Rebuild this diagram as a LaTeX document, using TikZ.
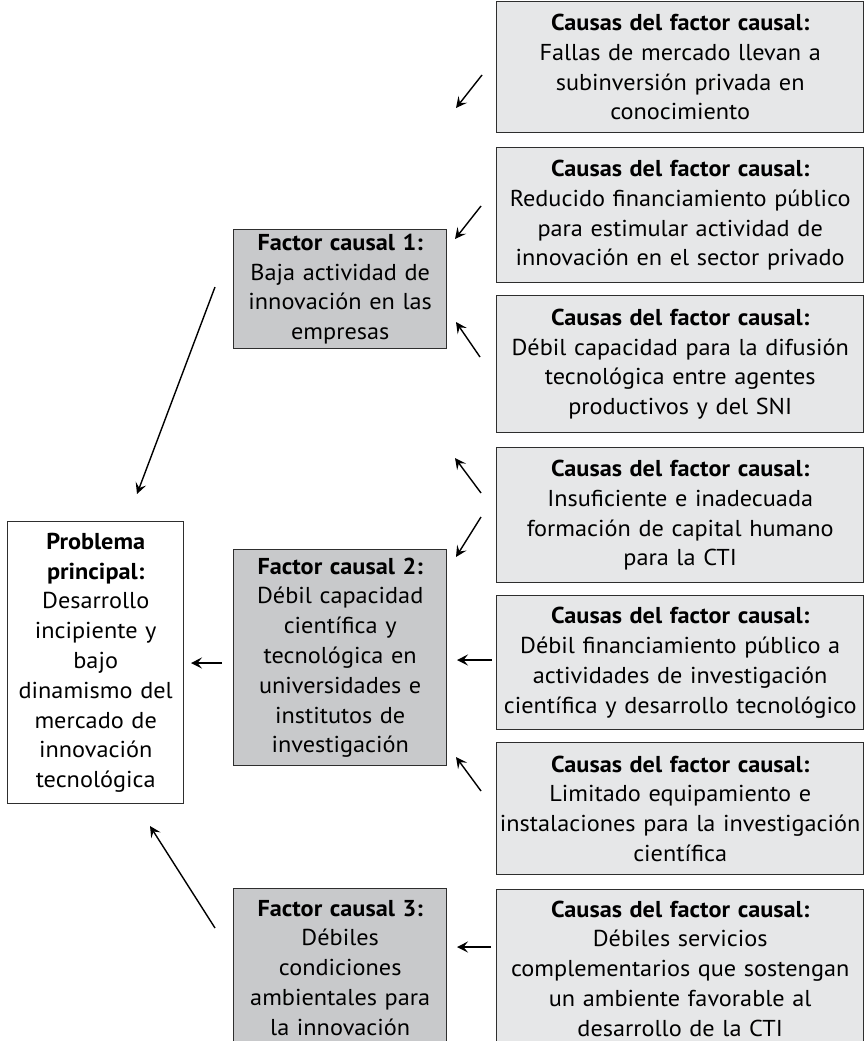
\documentclass[tikz,border=0pt]{standalone}
\usepackage{fontspec}
\setmainfont{PT Sans}[FakeStretch=1.055]
\usetikzlibrary{arrows.meta}
\definecolor{causefill}{HTML}{E6E7E8}
\definecolor{factfill}{HTML}{C8C9CB}
\definecolor{edgecol}{HTML}{2E2E2E}
\begin{document}
\begin{tikzpicture}[x=1pt,y=-1pt,
  box/.style={draw=edgecol, line width=1.4pt, inner ysep=0pt, align=center, anchor=north west,
    font=\fontsize{23}{29.8}\selectfont},
  causebox/.style={box, fill=causefill, minimum width=367pt, text width=380pt, inner xsep=-6.5pt},
  factbox/.style={box, fill=factfill, minimum width=213pt, text width=209pt, inner xsep=0pt},
  probbox/.style={box, fill=white, minimum width=176pt, text width=174pt, inner xsep=0pt},
  arr/.style={line width=1.4pt, -{Stealth[length=11pt,width=11pt,inset=4.5pt]}}
]
\useasboundingbox (0,0) rectangle (864,1041);
\clip (0,0) rectangle (864,1041);

% cause boxes
\node[causebox, minimum height=131pt] (c1) at (496,1)
  {\textbf{Causas del factor causal:}\\Fallas de mercado llevan a\\subinversión privada en\\conocimiento};
\node[causebox, minimum height=135pt] (c2) at (496,147)
  {\textbf{Causas del factor causal:}\\Reducido financiamiento público\\para estimular actividad de\\innovación en el sector privado};
\node[causebox, minimum height=137pt] (c3) at (496,295)
  {\textbf{Causas del factor causal:}\\Débil capacidad para la difusión\\tecnológica entre agentes\\productivos y del SNI};
\node[causebox, minimum height=135pt] (c4) at (496,447)
  {\textbf{Causas del factor causal:}\\Insuficiente e inadecuada\\formación de capital humano\\para la CTI};
\node[causebox, minimum height=134pt] (c5) at (496,595)
  {\textbf{Causas del factor causal:}\\Débil financiamiento público a\\actividades de investigación\\científica y desarrollo tecnológico};
\node[causebox, minimum height=132pt] (c6) at (496,742)
  {\textbf{Causas del factor causal:}\\Limitado equipamiento e\\instalaciones para la investigación\\científica};
\node[causebox, minimum height=158pt] (c7) at (496,889)
  {\textbf{Causas del factor causal:}\\Débiles servicios\\complementarios que sostengan\\un ambiente favorable al\\desarrollo de la CTI};

% factor boxes
\node[factbox, minimum height=119pt] (f1) at (233,229)
  {\textbf{Factor causal 1:}\\Baja actividad de\\innovación en las\\empresas};
\node[factbox, minimum height=216pt] (f2) at (233,549)
  {\textbf{Factor causal 2:}\\Débil capacidad\\científica y\\tecnológica en\\universidades e\\institutos de\\investigación};
\node[factbox, minimum height=158pt] (f3) at (233,888)
  {\textbf{Factor causal 3:}\\Débiles\\condiciones\\ambientales para\\la innovación};

% problem box
\node[probbox, minimum height=282pt] (p) at (7,521)
  {\textbf{Problema}\\\textbf{principal:}\\Desarrollo\\incipiente y\\bajo\\dinamismo del\\mercado de\\innovación\\tecnológica};

% arrow end points
\coordinate (a1s) at (482,75);  \coordinate (a1e) at (456,108);
\coordinate (a2s) at (481,206); \coordinate (a2e) at (455,239);
\coordinate (a3s) at (480,357); \coordinate (a3e) at (456,322);
\coordinate (a4s) at (481,493); \coordinate (a4e) at (455,458);
\coordinate (a5s) at (481,517); \coordinate (a5e) at (456,557);
\coordinate (a6s) at (492,660); \coordinate (a6e) at (457,660);
\coordinate (a7s) at (481,791); \coordinate (a7e) at (456,757);
\coordinate (a8s) at (491,947); \coordinate (a8e) at (457,947);
\coordinate (a9s) at (215,287); \coordinate (a9e) at (137,494);
\coordinate (a10s) at (222,663); \coordinate (a10e) at (191,663);
\coordinate (a11s) at (215,928); \coordinate (a11e) at (150,826);

\foreach \i in {1,...,11} \draw[arr] (a\i s) -- (a\i e);
\end{tikzpicture}
\end{document}
